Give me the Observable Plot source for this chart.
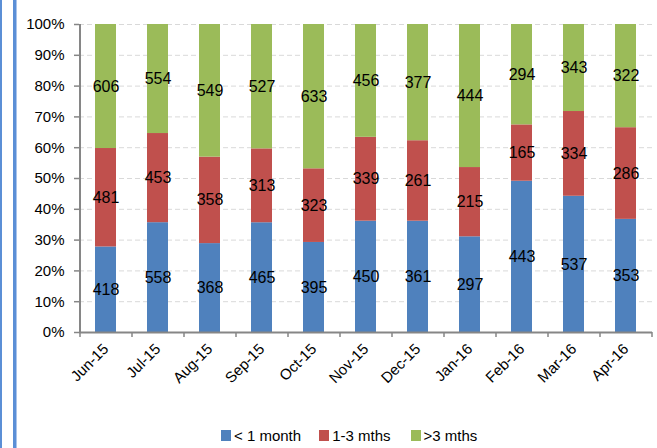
<!DOCTYPE html>
<html>
<head>
<meta charset="utf-8">
<script src="https://cdn.jsdelivr.net/npm/d3@7"></script>
<script src="https://cdn.jsdelivr.net/npm/@observablehq/plot@0.6"></script>
<style>
  html, body { margin: 0; padding: 0; background: #fff; }
  body { width: 657px; height: 448px; position: relative; overflow: hidden; font-family: "Liberation Sans", Arial, sans-serif; }
  .bar1 { position: absolute; left: 0; top: 0; width: 2px; height: 448px; background: #5b8fd6; }
  .bar2 { position: absolute; left: 13px; top: 0; width: 4px; height: 448px; background: #5b8fd6; border-right: 1px solid #a9c4ec; box-sizing: border-box; }
  #chart { position: absolute; left: 0; top: 0; }
  #legend { position: absolute; left: 0; top: 424px; width: 657px; height: 22px; display: flex; justify-content: flex-start; padding-left: 221px; box-sizing: border-box; font-size: 15px; color: #000; }
  .item { display: flex; align-items: center; }
  .sw { width: 10px; height: 11px; margin-right: 3px; }
</style>
</head>
<body>
<div class="bar1"></div>
<div class="bar2"></div>
<div id="chart"></div>
<div id="legend"></div>
<script>
const months = ["Jun-15","Jul-15","Aug-15","Sep-15","Oct-15","Nov-15","Dec-15","Jan-16","Feb-16","Mar-16","Apr-16"];
const seriesNames = ["< 1 month", "1-3 mths", ">3 mths"];
const under1 = [418, 558, 368, 465, 395, 450, 361, 297, 443, 537, 353];
const oneTo3 = [481, 453, 358, 313, 323, 339, 261, 215, 165, 334, 286];
const over3  = [606, 554, 549, 527, 633, 456, 377, 444, 294, 343, 322];
const colors = ["#4f81bd", "#c0504d", "#9bbb59"];
const yTicks = [0, 0.1, 0.2, 0.3, 0.4, 0.5, 0.6, 0.7, 0.8, 0.9, 1];

const seriesValues = [under1, oneTo3, over3];
const data = [];
seriesNames.forEach((s, si) => {
  months.forEach((m, mi) => data.push({month: m, series: s, value: seriesValues[si][mi]}));
});

const font = "Liberation Sans, Arial, sans-serif";

const chart = Plot.plot({
  width: 657,
  height: 410,
  marginLeft: 79,
  marginRight: 5,
  marginTop: 24,
  marginBottom: 78,
  style: {fontFamily: font, fontSize: "15px", color: "#000", background: "transparent"},
  x: {domain: months, paddingInner: 0.6, paddingOuter: 0.3, align: 0.5},
  y: {domain: [0, 1]},
  color: {domain: seriesNames, range: colors},
  marks: [
    Plot.ruleY(yTicks.filter(d => d > 0), {stroke: "#d9d9d9", strokeWidth: 1, strokeDasharray: "5,3"}),
    Plot.barY(data, Plot.stackY({x: "month", y: "value", fill: "series", offset: "normalize", order: null})),
    Plot.text(data, Plot.stackY({x: "month", y: "value", z: "series", offset: "normalize", order: null, text: "value", fill: "#000", fontSize: 16})),
    Plot.axisY({ticks: yTicks, tickFormat: d3.format(".0%"), tickSize: 5, tickPadding: 10, stroke: "#868686", strokeWidth: 1.5, fontSize: 15, fill: "#000", label: null}),
    Plot.axisX({tickSize: 0, tickRotate: -45, tickPadding: 14, fontSize: 15, fill: "#000", label: null}),
    Plot.ruleX(months, {x: d => d, dx: -26, y1: 0, y2: 0, insetBottom: -5, stroke: "#868686", strokeWidth: 1.5}),
    Plot.ruleX([months[months.length - 1]], {x: d => d, dx: 26, y1: 0, y2: 0, insetBottom: -5, stroke: "#868686", strokeWidth: 1.5}),
    Plot.ruleY([0], {stroke: "#868686", strokeWidth: 2}),
    Plot.ruleX([months[0]], {x: d => d, dx: -26, y1: 0, y2: 1, stroke: "#868686", strokeWidth: 2})
  ]
});
document.getElementById("chart").appendChild(chart);

const legend = document.getElementById("legend");
const gaps = [18, 20, 0];
seriesNames.forEach((s, i) => {
  const item = document.createElement("div");
  item.className = "item";
  item.style.marginRight = gaps[i] + "px";
  const sw = document.createElement("div");
  sw.className = "sw";
  sw.style.background = colors[i];
  const t = document.createElement("span");
  t.textContent = s;
  item.appendChild(sw);
  item.appendChild(t);
  legend.appendChild(item);
});
</script>
</body>
</html>
